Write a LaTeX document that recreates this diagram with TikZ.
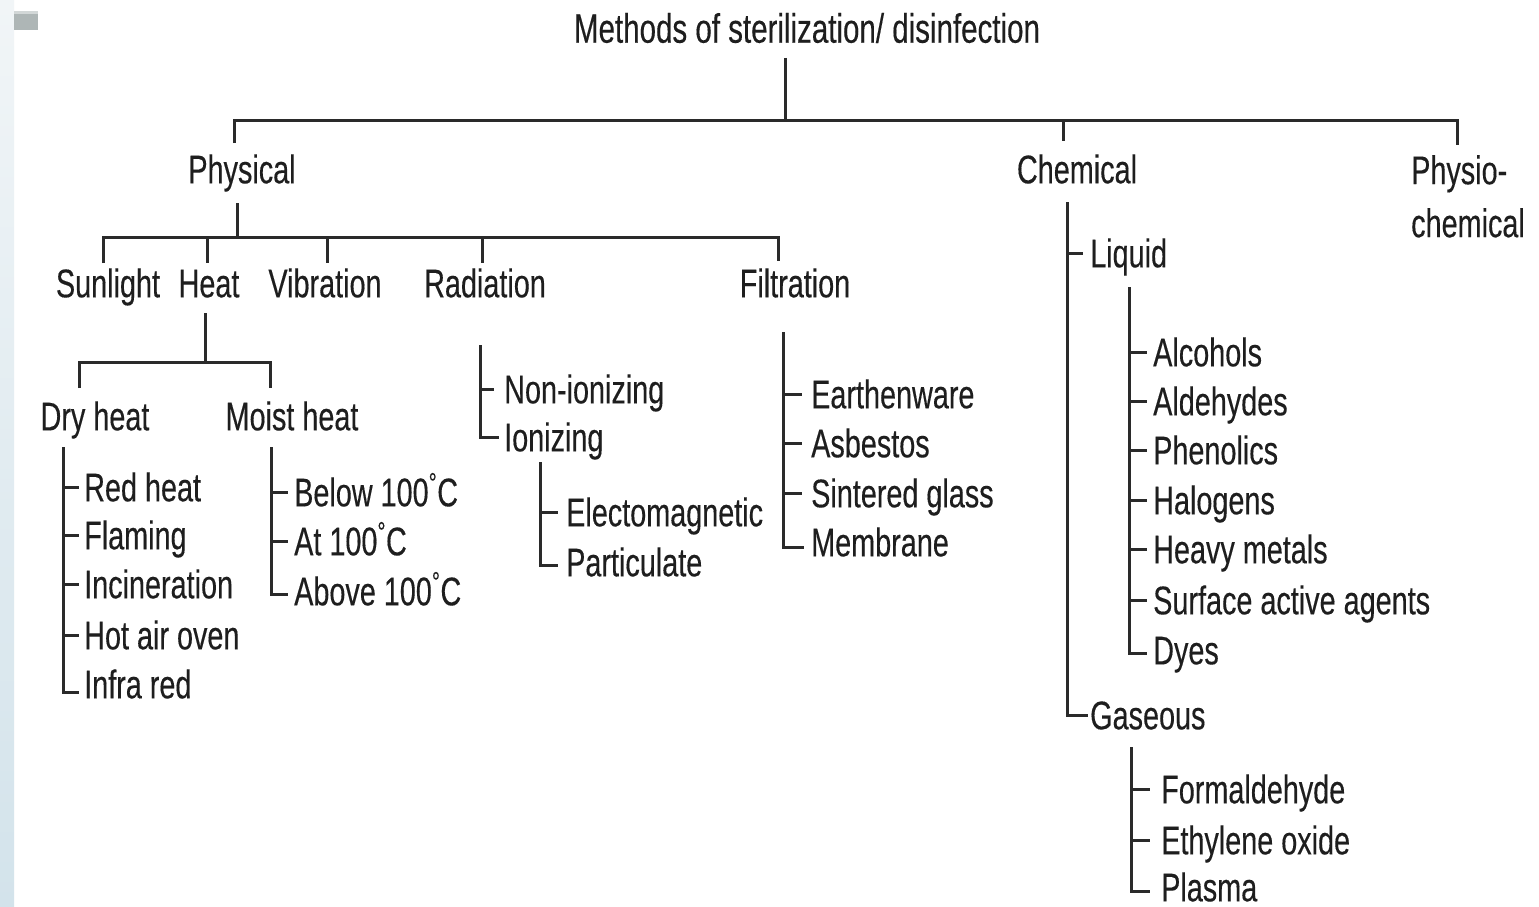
\documentclass[tikz,border=0pt]{standalone}
\usepackage{fontspec}
\setmainfont{Liberation Sans}[FakeStretch=0.72,FakeBold=0.25]
\definecolor{txt}{HTML}{1E1E1E}
\definecolor{lc}{HTML}{2A2A2A}
\definecolor{stripA}{HTML}{F1F5F7}
\definecolor{stripB}{HTML}{D3E3EB}
\definecolor{icon}{HTML}{AEB6B6}
\newcommand\mytick[3]{\draw[ln] (#1 |- #2.west) -- ([xshift=-#3]#2.west);}
\newcommand\mycorner[4]{\draw[ln] (#1) |- ([xshift=-#3,yshift=-#4]#2.west);}
\newcommand\mydegsign{\raisebox{0.12em}{\textsuperscript{°}}}
\begin{document}
\begin{tikzpicture}[x=1pt,y=-1pt,
  lbl/.style={font=\fontsize{40}{48}\selectfont, text=txt, inner sep=0pt,
              text height=28.6pt, text depth=0pt},
  leaf/.style={lbl, anchor=west},
  ttl/.style={font=\fontsize{41}{50}\selectfont, text=txt, inner sep=0pt,
              text height=29.4pt, text depth=0pt},
  ln/.style={draw=lc, line width=3pt}]
\useasboundingbox (0,0) rectangle (1539,907);
\fill[white] (0,0) rectangle (1539,907);
\shade[top color=stripA, bottom color=stripB] (0,0) rectangle (14,907);
\fill[icon] (14,11) rectangle (38,30);
\fill[icon!55!white] (14,11) rectangle (38,14);

% ---- top level ----
\node[ttl] (title) at (807,28) {Methods of sterilization/ disinfection};
\node[lbl] (physical) at (242,169) {Physical};
\node[lbl] (chemical) at (1077,169) {Chemical};
\node[lbl, align=left, anchor=north west, text height=, text depth=,
      font=\fontsize{40}{53}\selectfont] (physio) at (1411,155) {Physio-\\chemical};

\coordinate (tS) at (785,58);
\coordinate (tJ) at (785,120);
\coordinate (pE) at (234,143);
\coordinate (xE) at (1457,145);
\coordinate (cE) at (1063,141);
\draw[ln] (tS) -- (tJ);
\draw[ln] (pE) |- (xE |- tJ) -- (xE);
\draw[ln] (cE |- tJ) -- (cE);

% ---- physical ----
\node[lbl] (sunlight) at (108,283) {Sunlight};
\node[lbl] (heat) at (209,283) {Heat};
\node[lbl] (vibration) at (325,283) {Vibration};
\node[lbl] (radiation) at (485,283) {Radiation};
\node[lbl] (filtration) at (795,283) {Filtration};

\coordinate (phS) at (237,203);
\coordinate (phJ) at (237,237);
\coordinate (sunE) at (103,263);
\coordinate (heatE) at (207,263);
\coordinate (vibE) at (327,263);
\coordinate (radE) at (482,263);
\coordinate (filE) at (778,261);
\draw[ln] (phS) -- (phJ);
\draw[ln] (sunE) |- (filE |- phJ) -- (filE);
\foreach \c in {heatE,vibE,radE} \draw[ln] (\c |- phJ) -- (\c);

% ---- heat ----
\node[lbl] (dry) at (95,416) {Dry heat};
\node[lbl] (moist) at (292,416) {Moist heat};
\coordinate (hS) at (205,313);
\coordinate (hJ) at (205,362);
\coordinate (dryE) at (79,388);
\coordinate (moistE) at (270,388);
\draw[ln] (hS) -- (hJ);
\draw[ln] (dryE) |- (moistE |- hJ) -- (moistE);

% dry heat list
\node[leaf] (red) at (84,487) {Red heat};
\node[leaf] (flaming) at (84,535) {Flaming};
\node[leaf] (incin) at (84,584) {Incineration};
\node[leaf] (hotair) at (84,635) {Hot air oven};
\node[leaf] (infra) at (84,684) {Infra red};
\coordinate (dS) at (63,447);
\mycorner{dS}{infra}{5pt}{8pt}
\foreach \n in {red,flaming,incin,hotair} {\mytick{dS}{\n}{5pt}}

% moist heat list
\node[leaf] (below) at (294,492) {Below 100\mydegsign C};
\node[leaf] (at100) at (294,541) {At 100\mydegsign C};
\node[leaf] (above) at (294,591) {Above 100\mydegsign C};
\coordinate (mS) at (271,447);
\mycorner{mS}{above}{6pt}{3pt}
\foreach \n in {below,at100} {\mytick{mS}{\n}{6pt}}

% radiation list
\node[leaf] (nonion) at (504,389) {Non-ionizing};
\node[leaf] (ion) at (504,437) {Ionizing};
\coordinate (rS) at (480,345);
\mycorner{rS}{ion}{5pt}{0pt}
\mytick{rS}{nonion}{10pt}

% ionizing list
\node[leaf] (electro) at (566,512) {Electomagnetic};
\node[leaf] (partic) at (566,562) {Particulate};
\coordinate (iS) at (540,462);
\mycorner{iS}{partic}{8pt}{3pt}
\mytick{iS}{electro}{8pt}

% filtration list
\node[leaf] (earth) at (811,394) {Earthenware};
\node[leaf] (asbestos) at (811,443) {Asbestos};
\node[leaf] (sinter) at (811,493) {Sintered glass};
\node[leaf] (membrane) at (811,542) {Membrane};
\coordinate (fS) at (783,332);
\mycorner{fS}{membrane}{7pt}{5pt}
\foreach \n in {earth,asbestos,sinter} {\mytick{fS}{\n}{9pt}}

% ---- chemical ----
\node[leaf] (liquid) at (1090,253) {Liquid};
\node[leaf] (gaseous) at (1090,715) {Gaseous};
\coordinate (chS) at (1067,202);
\mycorner{chS}{gaseous}{2pt}{0pt}
\mytick{chS}{liquid}{7pt}

% liquid list
\node[leaf] (alcohols) at (1153,352) {Alcohols};
\node[leaf] (aldehydes) at (1153,401) {Aldehydes};
\node[leaf] (phenolics) at (1153,450) {Phenolics};
\node[leaf] (halogens) at (1153,500) {Halogens};
\node[leaf] (heavy) at (1153,549) {Heavy metals};
\node[leaf] (surface) at (1153,600) {Surface active agents};
\node[leaf] (dyes) at (1153,650) {Dyes};
\coordinate (lS) at (1129,287);
\mycorner{lS}{dyes}{6pt}{3pt}
\foreach \n in {alcohols,aldehydes,phenolics,halogens,heavy,surface} {\mytick{lS}{\n}{6pt}}

% gaseous list
\node[leaf] (formal) at (1161,789) {Formaldehyde};
\node[leaf] (ethylene) at (1161,840) {Ethylene oxide};
\node[leaf] (plasma) at (1161,887) {Plasma};
\coordinate (gS) at (1131,747);
\mycorner{gS}{plasma}{11pt}{4pt}
\foreach \n in {formal,ethylene} {\mytick{gS}{\n}{11pt}}
\end{tikzpicture}
\end{document}
